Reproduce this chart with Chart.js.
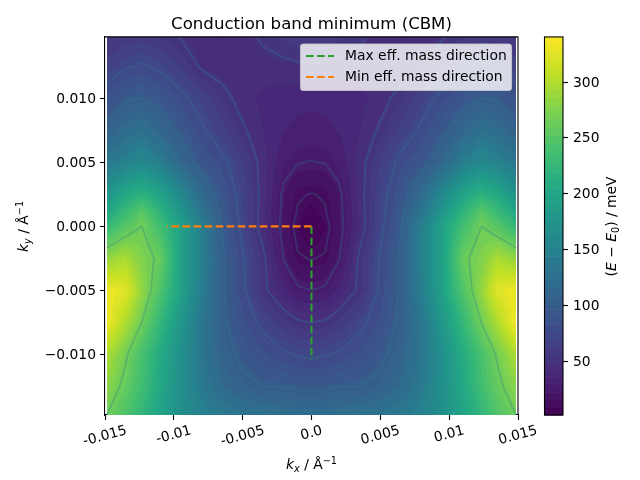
<!DOCTYPE html>
<html>
<head>
<meta charset="utf-8">
<title>Conduction band minimum (CBM)</title>
<script src="https://cdn.jsdelivr.net/npm/chart.js@4/dist/chart.umd.min.js"></script>
<style>
  html, body { margin: 0; padding: 0; background: #fff; }
  canvas { display: block; }
</style>
</head>
<body>
<canvas id="chart" width="640" height="480"></canvas>
<script>
// k-space sample positions
const gridX = [-0.01487, -0.0135, -0.01233, -0.011, -0.0095, -0.008, -0.0065, -0.005, -0.0035, -0.002, -0.001, 0,
  0.001, 0.002, 0.0035, 0.005, 0.0065, 0.008, 0.0095, 0.011, 0.01233, 0.0135, 0.01487];
const gridY = [0.0148, 0.0125, 0.01, 0.0075, 0.005, 0.0025, 0.001, 0, -0.0025, -0.005, -0.0075, -0.01, -0.0125, -0.01473];

// energy in meV, one row per gridY entry
const energyRows = [
  [55, 58, 60, 55, 49, 44, 42, 46, 52, 57, 60, 60, 60, 57, 52, 46, 42, 44, 49, 55, 60, 58, 55],
  [65, 73, 77, 72, 62, 48, 44, 44, 46, 47, 48, 48, 48, 47, 46, 44, 44, 48, 62, 72, 77, 73, 65],
  [85, 97, 100, 92, 80, 68, 55, 45, 40, 39, 38, 38, 38, 39, 40, 45, 55, 68, 80, 92, 100, 97, 85],
  [105, 122, 128, 113, 95, 78, 65, 52, 42, 36, 33, 32, 33, 36, 42, 52, 65, 78, 95, 113, 128, 122, 105],
  [135, 150, 160, 145, 115, 92, 80, 63, 45, 30, 25.5, 24.5, 25.5, 30, 45, 63, 80, 92, 115, 145, 160, 150, 135],
  [175, 205, 218, 198, 160, 120, 90, 68, 45, 22, 13, 11.5, 13, 22, 45, 68, 90, 120, 160, 198, 218, 205, 175],
  [205, 232, 255, 222, 180, 135, 95, 69, 44, 21, 11, 5, 11, 21, 44, 69, 95, 135, 180, 222, 255, 232, 205],
  [225, 250, 265, 236, 195, 148, 99, 70, 43, 20, 8, 2, 8, 20, 43, 70, 99, 148, 195, 236, 265, 250, 225],
  [285, 297, 275, 260, 195, 148, 103, 77, 53, 24, 13, 11.5, 13, 24, 53, 77, 103, 148, 195, 260, 275, 297, 285],
  [332, 325, 285, 245, 195, 145, 103, 78, 53, 38, 27, 25, 27, 38, 53, 78, 103, 145, 195, 245, 285, 325, 332],
  [335, 298, 265, 225, 180, 135, 104, 85, 70, 58, 52, 50, 52, 58, 70, 85, 104, 135, 180, 225, 265, 298, 335],
  [298, 268, 240, 208, 170, 135, 110, 95, 85, 77, 74, 72, 74, 77, 85, 95, 110, 135, 170, 208, 240, 268, 298],
  [280, 258, 235, 203, 168, 140, 118, 105, 100, 99, 97, 96, 97, 99, 100, 105, 118, 140, 168, 203, 235, 258, 280],
  [265, 245, 222, 198, 170, 150, 140, 132, 127, 124, 122, 122, 122, 124, 127, 132, 140, 150, 170, 198, 222, 245, 265],
];

const contourLevels = [12, 25, 50, 75, 100, 265];
const energyMin = 1.6;
const energyMax = 340;
const bandCount = 50;

const xTicks = [-0.015, -0.01, -0.005, 0, 0.005, 0.01, 0.015];
const xTickLabels = ['-0.015', '-0.01', '-0.005', '0.0', '0.005', '0.01', '0.015'];
const yTicks = [0.01, 0.005, 0, -0.005, -0.01];
const yTickLabels = ['0.010', '0.005', '0.000', '\u22120.005', '\u22120.010'];
const cbarTicks = [50, 100, 150, 200, 250, 300];

const maxMassX = [0, 0];
const maxMassY = [0, -0.0104];
const minMassX = [0, -0.0105];
const minMassY = [0, 0];

const viridisStops = [
  [68, 1, 84], [72, 36, 117], [65, 68, 135], [53, 95, 141], [42, 120, 142], [33, 145, 140],
  [34, 168, 132], [68, 191, 112], [122, 209, 81], [189, 223, 38], [253, 231, 37],
];

const FONT = '"DejaVu Sans"';

function viridis(t) {
  const p = Math.min(Math.max(t, 0), 1) * (viridisStops.length - 1);
  const i = Math.min(Math.floor(p), viridisStops.length - 2);
  const f = p - i;
  const a = viridisStops[i], b = viridisStops[i + 1];
  return [a[0] + (b[0] - a[0]) * f, a[1] + (b[1] - a[1]) * f, a[2] + (b[2] - a[2]) * f];
}

// colour of the filled band a value falls in, like contourf
function bandColor(v) {
  const t = (v - energyMin) / (energyMax - energyMin);
  const band = Math.min(Math.max(Math.floor(t * bandCount), 0), bandCount - 1);
  return viridis((band + 0.5) / bandCount);
}

function findCell(arr, v, descending) {
  for (let i = 0; i < arr.length - 1; i++) {
    const lo = descending ? arr[i + 1] : arr[i];
    const hi = descending ? arr[i] : arr[i + 1];
    if (v >= lo && v <= hi) return i;
  }
  return -1;
}

const fieldPlugin = {
  id: 'field',
  beforeDatasetsDraw(chart) {
    const { ctx, chartArea: area, scales } = chart;
    const w = Math.ceil(area.right - area.left);
    const h = Math.ceil(area.bottom - area.top);
    const off = document.createElement('canvas');
    off.width = w;
    off.height = h;
    const octx = off.getContext('2d');
    const img = octx.createImageData(w, h);
    for (let py = 0; py < h; py++) {
      const ky = scales.y.getValueForPixel(area.top + py + 0.5);
      const r = findCell(gridY, ky, true);
      if (r < 0) continue;
      const fy = (gridY[r] - ky) / (gridY[r] - gridY[r + 1]);
      for (let px = 0; px < w; px++) {
        const kx = scales.x.getValueForPixel(area.left + px + 0.5);
        const c = findCell(gridX, kx, false);
        if (c < 0) continue;
        const fx = (kx - gridX[c]) / (gridX[c + 1] - gridX[c]);
        const top = energyRows[r][c] * (1 - fx) + energyRows[r][c + 1] * fx;
        const bot = energyRows[r + 1][c] * (1 - fx) + energyRows[r + 1][c + 1] * fx;
        const col = bandColor(top * (1 - fy) + bot * fy);
        const o = (py * w + px) * 4;
        img.data[o] = col[0];
        img.data[o + 1] = col[1];
        img.data[o + 2] = col[2];
        img.data[o + 3] = 255;
      }
    }
    octx.putImageData(img, 0, 0);
    ctx.drawImage(off, Math.round(area.left), Math.round(area.top));

    // contour lines, marching squares over the same grid
    ctx.save();
    ctx.beginPath();
    ctx.rect(area.left, area.top, area.right - area.left, area.bottom - area.top);
    ctx.clip();
    ctx.strokeStyle = 'rgba(45,125,140,0.28)';
    ctx.lineWidth = 2;
    ctx.lineJoin = 'round';
    contourLevels.forEach((level) => {
      ctx.beginPath();
      for (let r = 0; r < gridY.length - 1; r++) {
        for (let c = 0; c < gridX.length - 1; c++) {
          const corners = [[c, r], [c + 1, r], [c + 1, r + 1], [c, r + 1]];
          const hits = [];
          for (let e = 0; e < 4; e++) {
            const a = corners[e], b = corners[(e + 1) % 4];
            const va = energyRows[a[1]][a[0]], vb = energyRows[b[1]][b[0]];
            if ((va < level) !== (vb < level)) {
              const f = (level - va) / (vb - va);
              const kx = gridX[a[0]] + (gridX[b[0]] - gridX[a[0]]) * f;
              const ky = gridY[a[1]] + (gridY[b[1]] - gridY[a[1]]) * f;
              hits.push([scales.x.getPixelForValue(kx), scales.y.getPixelForValue(ky)]);
            }
          }
          for (let i = 0; i + 1 < hits.length; i += 2) {
            ctx.moveTo(hits[i][0], hits[i][1]);
            ctx.lineTo(hits[i + 1][0], hits[i + 1][1]);
          }
        }
      }
      ctx.stroke();
    });
    ctx.restore();
  },
  afterDatasetsDraw(chart) {
    const { ctx, chartArea: area } = chart;
    ctx.save();
    ctx.strokeStyle = '#000';
    ctx.lineWidth = 1.1;
    ctx.beginPath();
    ctx.moveTo(area.left, area.top);
    ctx.lineTo(area.right, area.top);
    ctx.lineTo(area.right, area.bottom);
    ctx.stroke();
    ctx.restore();
    drawLegend(chart);
  },
  afterDraw(chart) {
    drawXTickLabels(chart);
    drawColorbar(chart);
    drawMath(chart.ctx, [
      { t: 'k', i: 1 }, { t: 'x', i: 1, sub: 1 }, { t: ' / \u00c5' }, { t: '\u22121', sup: 1 },
    ], chart.scales.x.getPixelForValue(0), 464, 0);
    drawMath(chart.ctx, [
      { t: 'k', i: 1 }, { t: 'y', i: 1, sub: 1 }, { t: ' / \u00c5' }, { t: '\u22121', sup: 1 },
    ], 23, chart.scales.y.getPixelForValue(0), -Math.PI / 2);
  },
};

function drawLegend(chart) {
  const { ctx, data } = chart;
  const boxX = 300.5, boxY = 44, boxW = 211, boxH = 46.5;
  ctx.save();
  ctx.beginPath();
  ctx.roundRect(boxX, boxY, boxW, boxH, 3);
  ctx.fillStyle = 'rgba(255,255,255,0.8)';
  ctx.fill();
  ctx.strokeStyle = 'rgba(204,204,204,0.8)';
  ctx.lineWidth = 1.1;
  ctx.stroke();
  data.datasets.forEach((ds, i) => {
    const y = 56 + i * 21;
    ctx.beginPath();
    ctx.setLineDash(ds.borderDash);
    ctx.strokeStyle = ds.borderColor;
    ctx.lineWidth = ds.borderWidth;
    ctx.moveTo(306, y);
    ctx.lineTo(334, y);
    ctx.stroke();
    ctx.setLineDash([]);
    ctx.fillStyle = '#000';
    ctx.font = '13.89px ' + FONT;
    ctx.textAlign = 'left';
    ctx.textBaseline = 'middle';
    ctx.fillText(ds.label, 345, y + 0.5);
  });
  ctx.restore();
}

function drawXTickLabels(chart) {
  const { ctx, scales } = chart;
  const angle = 15 * Math.PI / 180;
  ctx.save();
  ctx.font = '13.89px ' + FONT;
  ctx.fillStyle = '#000';
  ctx.textAlign = 'center';
  ctx.textBaseline = 'middle';
  xTicks.forEach((v, i) => {
    const w = ctx.measureText(xTickLabels[i]).width;
    const boxH = w * Math.sin(angle) + 13.5 * Math.cos(angle);
    ctx.save();
    ctx.translate(scales.x.getPixelForValue(v), 424 + boxH / 2);
    ctx.rotate(-angle);
    ctx.fillText(xTickLabels[i], 0, 0);
    ctx.restore();
  });
  ctx.restore();
}

function drawColorbar(chart) {
  const { ctx, scales } = chart;
  const sc = scales.cbar;
  const left = 544.5, right = 563;
  ctx.save();
  for (let b = 0; b < bandCount; b++) {
    const v0 = energyMin + (energyMax - energyMin) * b / bandCount;
    const v1 = energyMin + (energyMax - energyMin) * (b + 1) / bandCount;
    const col = viridis((b + 0.5) / bandCount);
    const y0 = sc.getPixelForValue(v0), y1 = sc.getPixelForValue(v1);
    ctx.fillStyle = `rgb(${col[0]},${col[1]},${col[2]})`;
    ctx.fillRect(left, y1, right - left, y0 - y1 + 0.6);
  }
  ctx.strokeStyle = '#000';
  ctx.lineWidth = 1.1;
  ctx.strokeRect(left, sc.getPixelForValue(energyMax), right - left,
    sc.getPixelForValue(energyMin) - sc.getPixelForValue(energyMax));
  ctx.font = '13.89px ' + FONT;
  ctx.fillStyle = '#000';
  ctx.textAlign = 'left';
  ctx.textBaseline = 'middle';
  cbarTicks.forEach((v) => {
    const y = Math.round(sc.getPixelForValue(v)) + 0.5;
    ctx.beginPath();
    ctx.moveTo(right, y);
    ctx.lineTo(right + 5, y);
    ctx.stroke();
    ctx.fillText(String(v), 573, y + 0.5);
  });
  ctx.restore();
  drawMath(ctx, [
    { t: '(' }, { t: 'E', i: 1 }, { t: ' \u2212 ' }, { t: 'E', i: 1 }, { t: '0', sub: 1 }, { t: ') / meV' },
  ], 611, chart.scales.y.getPixelForValue(0), -Math.PI / 2);
}

// axis titles with italic symbols and sub/superscripts
function drawMath(ctx, parts, cx, cy, rot) {
  const size = 13.89;
  const fontOf = (p) => `${p.i ? 'italic ' : ''}${p.sub || p.sup ? size * 0.7 : size}px ${FONT}`;
  ctx.save();
  let total = 0;
  parts.forEach((p) => { ctx.font = fontOf(p); total += ctx.measureText(p.t).width; });
  ctx.translate(cx, cy);
  ctx.rotate(rot);
  ctx.fillStyle = '#000';
  ctx.textAlign = 'left';
  ctx.textBaseline = 'alphabetic';
  let x = -total / 2;
  parts.forEach((p) => {
    ctx.font = fontOf(p);
    const dy = p.sub ? 2.5 : p.sup ? -5.5 : 0;
    ctx.fillText(p.t, x, 5 + dy);
    x += ctx.measureText(p.t).width;
  });
  ctx.restore();
}

new Chart(document.getElementById('chart'), {
  type: 'scatter',
  data: {
    datasets: [
      {
        label: 'Max eff. mass direction',
        data: maxMassX.map((x, i) => ({ x, y: maxMassY[i] })),
        showLine: true,
        borderColor: '#2ca02c',
        borderWidth: 2.08,
        borderDash: [7.7, 3.33],
        pointRadius: 0,
        order: 2,
      },
      {
        label: 'Min eff. mass direction',
        data: minMassX.map((x, i) => ({ x, y: minMassY[i] })),
        showLine: true,
        borderColor: '#ff7f0e',
        borderWidth: 2.08,
        borderDash: [7.7, 3.33],
        pointRadius: 0,
        order: 1,
      },
    ],
  },
  options: {
    responsive: false,
    animation: false,
    layout: { padding: 0 },
    plugins: {
      legend: { display: false },
      tooltip: { enabled: false },
      title: {
        display: true,
        text: 'Conduction band minimum (CBM)',
        fullSize: false,
        color: '#000',
        font: { family: FONT, size: 16.6, weight: 'normal', lineHeight: 1.2 },
        padding: { top: 15, bottom: 2 },
      },
    },
    scales: {
      x: {
        type: 'linear',
        min: -0.015,
        max: 0.015,
        afterBuildTicks: (axis) => { axis.ticks = xTicks.map((value) => ({ value })); },
        afterFit: (axis) => { axis.height = 65; },
        ticks: { display: false, autoSkip: false },
        grid: { drawOnChartArea: false, tickColor: '#000', tickLength: 5, tickWidth: 1.1 },
        border: { color: '#000', width: 1.1 },
      },
      y: {
        type: 'linear',
        min: -0.01473,
        max: 0.0148,
        afterBuildTicks: (axis) => { axis.ticks = yTicks.map((value) => ({ value })); },
        afterFit: (axis) => { axis.width = 105; },
        ticks: {
          autoSkip: false,
          color: '#000',
          padding: 4,
          labelOffset: 1,
          font: { family: FONT, size: 13.89 },
          callback: (value) => yTickLabels[yTicks.indexOf(value)],
        },
        grid: { drawOnChartArea: false, tickColor: '#000', tickLength: 5, tickWidth: 1.1 },
        border: { color: '#000', width: 1.1 },
      },
      cbar: {
        type: 'linear',
        position: 'right',
        min: energyMin,
        max: energyMax,
        afterFit: (axis) => { axis.width = 122; },
        ticks: { display: false },
        grid: { display: false },
        border: { display: false },
      },
    },
  },
  plugins: [fieldPlugin],
});
</script>
</body>
</html>
